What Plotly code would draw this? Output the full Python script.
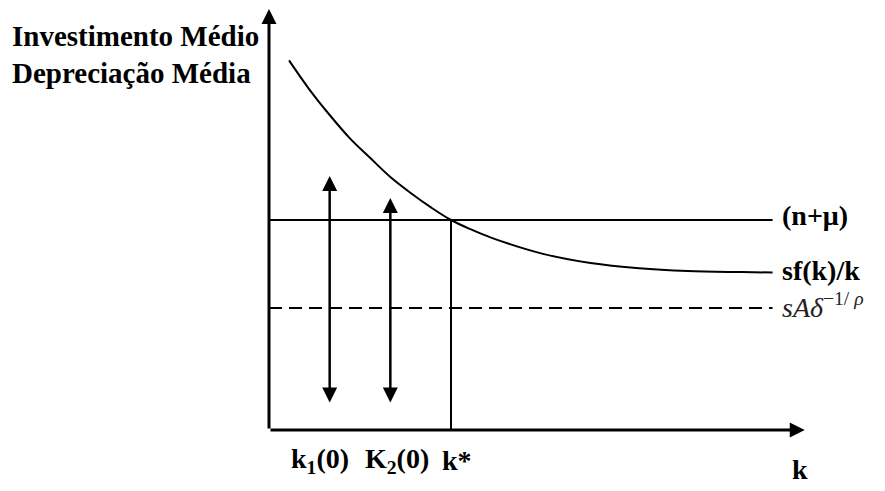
import plotly.graph_objects as go

# ---- data (economic units) ----
curve_k = [0.33, 0.67, 1.0, 1.33, 1.67, 2.0, 2.33, 2.67, 3.0, 3.33, 3.67, 4.5, 5.3, 6.1, 6.9, 7.8, 8.3]
curve_v = [17.6, 16.2, 15.0, 13.9, 12.95, 12.05, 11.3, 10.6, 10.0, 9.55, 9.15, 8.4, 7.95, 7.7, 7.57, 7.52, 7.5]
n_mu = 10.0            # (n+mu) level
floor_level = 5.81     # sA delta^{-1/rho}
line_end_k = 8.3
k_star = 3.0
k1 = 1.0
k2 = 2.0
arrow1_top = 12.1
arrow2_top = 11.05
arrow_bottom = 1.24
xaxis_end = 8.83
yaxis_end = 20.05
bottom_labels = ["k<sub>1</sub>(0)", "K<sub>2</sub>(0)", "k*"]
bottom_label_k = [0.84, 2.11, 3.1]
y_title_lines = ["Investimento Médio", "Depreciação Média"]

FONT = "Liberation Serif"
fs = 28

fig = go.Figure()

fig.add_trace(go.Scatter(x=curve_k, y=curve_v, mode="lines", line=dict(color="black", width=2, shape="spline"),
                         hoverinfo="skip", showlegend=False))
fig.add_trace(go.Scatter(x=[0, line_end_k], y=[n_mu, n_mu], mode="lines", line=dict(color="black", width=2),
                         hoverinfo="skip", showlegend=False))
fig.add_trace(go.Scatter(x=[0, line_end_k], y=[floor_level, floor_level], mode="lines",
                         line=dict(color="black", width=2, dash="13px,7px"), hoverinfo="skip", showlegend=False))
fig.add_trace(go.Scatter(x=[k_star, k_star], y=[0, n_mu], mode="lines", line=dict(color="black", width=2),
                         hoverinfo="skip", showlegend=False))

ann = []
# axes with arrows
ann.append(dict(x=0, y=yaxis_end, ax=0, ay=0, xref="x", yref="y", axref="x", ayref="y", text="",
                showarrow=True, arrowhead=2, arrowwidth=3, arrowsize=1, arrowcolor="black"))
ann.append(dict(x=xaxis_end, y=0, ax=0, ay=0, xref="x", yref="y", axref="x", ayref="y", text="",
                showarrow=True, arrowhead=2, arrowwidth=3, arrowsize=1, arrowcolor="black"))
# double arrows
for kk, top in [(k1, arrow1_top), (k2, arrow2_top)]:
    ann.append(dict(x=kk, y=top, ax=kk, ay=arrow_bottom, xref="x", yref="y", axref="x", ayref="y", text="",
                    showarrow=True, arrowside="end+start", arrowhead=2, startarrowhead=2,
                    arrowwidth=2.5, arrowsize=1.2, startarrowsize=1.2, arrowcolor="black"))

bold = dict(family=FONT, size=fs, color="black")
title_font = dict(family=FONT, size=29, color="black")
# y title
ann.append(dict(x=-4.27, y=18.78, xref="x", yref="y", text="<b>%s</b>" % y_title_lines[0], showarrow=False,
                xanchor="left", yanchor="middle", font=title_font))
ann.append(dict(x=-4.27, y=17.0, xref="x", yref="y", text="<b>%s</b>" % y_title_lines[1], showarrow=False,
                xanchor="left", yanchor="middle", font=title_font))
# right labels
ann.append(dict(x=8.42, y=n_mu + 0.2, xref="x", yref="y", text="<b>(n+μ)</b>", showarrow=False,
                xanchor="left", yanchor="middle", font=bold))
ann.append(dict(x=8.42, y=curve_v[-1] + 0.1, xref="x", yref="y", text="<b>sf(k)/k</b>", showarrow=False,
                xanchor="left", yanchor="middle", font=bold))
ann.append(dict(x=8.42, y=floor_level + 0.1, xref="x", yref="y",
                text="<i>sAδ</i><sup>−1/ <i>ρ</i></sup>", showarrow=False,
                xanchor="left", yanchor="middle", font=dict(family=FONT, size=fs, color="#222")))
# bottom labels
for lab, kk in zip(bottom_labels, bottom_label_k):
    ann.append(dict(x=kk, y=-1.43, xref="x", yref="y", text="<b>%s</b>" % lab, showarrow=False,
                    xanchor="center", yanchor="middle", font=bold))
ann.append(dict(x=8.75, y=-1.9, xref="x", yref="y", text="<b>k</b>", showarrow=False,
                xanchor="center", yanchor="middle", font=bold))

fig.update_layout(
    width=885, height=491, margin=dict(l=0, r=0, t=0, b=0),
    paper_bgcolor="white", plot_bgcolor="white",
    xaxis=dict(range=[-269 / 60.67, (885 - 269) / 60.67], visible=False, fixedrange=True),
    yaxis=dict(range=[(430 - 491) / 21, 430 / 21], visible=False, fixedrange=True),
    annotations=ann, showlegend=False,
)

fig.write_html("out.html", config={"displayModeBar": False},
               post_script="document.body.style.margin='0';")
